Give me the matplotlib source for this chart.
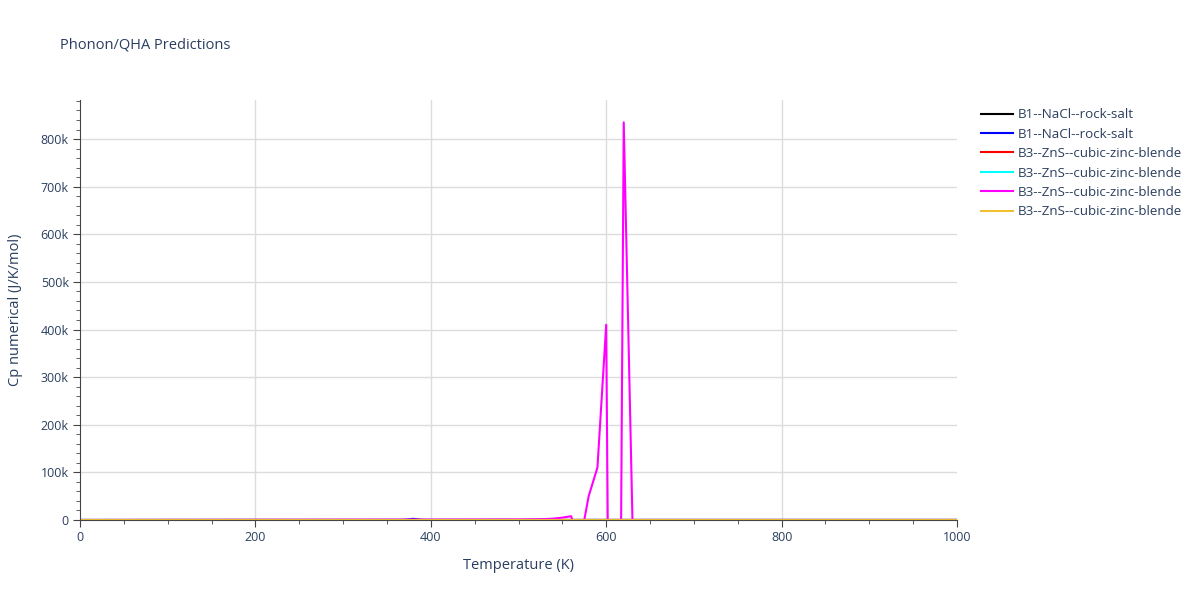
import matplotlib
matplotlib.use("Agg")
import matplotlib.pyplot as plt
from matplotlib.ticker import FuncFormatter, MultipleLocator

plt.rcParams["font.family"] = ["Open Sans", "DejaVu Sans"]
plt.rcParams["font.size"] = 9

# data (Cp in J/K/mol)
labels = [
    "B1--NaCl--rock-salt",
    "B1--NaCl--rock-salt",
    "B3--ZnS--cubic-zinc-blende",
    "B3--ZnS--cubic-zinc-blende",
    "B3--ZnS--cubic-zinc-blende",
    "B3--ZnS--cubic-zinc-blende",
]
colors = ["#000000", "#0000ff", "#ff0000", "#00ffff", "#ff00ff", "#f0c030"]

temp_coarse = [0, 100, 200, 300, 400, 500, 600, 700, 800, 900, 1000]
cp_black = [0, 30, 42, 46, 48, 49, 50, 50, 51, 51, 52]
cp_red = [0, 28, 40, 45, 47, 48, 49, 50, 50, 51, 51]
cp_cyan = [0, 29, 41, 45, 47, 48, 49, 50, 50, 51, 51]
cp_orange = [0, 27, 40, 44, 46, 47, 48, 49, 50, 50, 51]

temp_blue = [0, 100, 200, 300, 360, 370, 380, 390, 400, 500, 600, 700, 800, 900, 1000]
cp_blue = [0, 30, 42, 46, 48, 300, 2500, 200, 49, 50, 50, 51, 51, 52, 52]

temp_mag = [0, 100, 200, 300, 400, 500, 520, 530, 540, 550, 560, 570, 580,
            590, 600, 610, 620, 630, 640, 700, 800, 900, 1000]
cp_mag = [0, 300, 500, 700, 900, 1200, 1600, 2000, 2800, 5000, 8000, -50000,
          50000, 110000, 410000, -1950000, 835000, -5000, 60, 55, 55, 55, 55]

series = [
    (temp_coarse, cp_black),
    (temp_blue, cp_blue),
    (temp_coarse, cp_red),
    (temp_coarse, cp_cyan),
    (temp_mag, cp_mag),
    (temp_coarse, cp_orange),
]

fig = plt.figure(figsize=(12, 6), dpi=100)
ax = fig.add_axes([80 / 1200, 80 / 600, 877 / 1200, 420 / 600])

for (t, cp), c, lab in zip(series, colors, labels):
    ax.plot(t, cp, color=c, lw=1.5, label=lab, clip_on=True)

ax.set_xlim(0, 1000)
ax.set_ylim(0, 882000)

ax.set_xticks([0, 200, 400, 600, 800, 1000])
ax.xaxis.set_minor_locator(MultipleLocator(50))
ax.yaxis.set_major_locator(MultipleLocator(100000))
ax.yaxis.set_minor_locator(MultipleLocator(20000))
ax.yaxis.set_major_formatter(
    FuncFormatter(lambda v, p: "0" if v == 0 else "%dk" % round(v / 1000))
)

# vertical grid only inside the plot, none on the right edge
for xv in [200, 400, 600, 800]:
    ax.axvline(xv, color="#dcdcdc", lw=1, zorder=0)
ax.grid(True, axis="y", which="major", color="#dcdcdc", lw=1)
ax.set_axisbelow(True)
for s in ["top", "right"]:
    ax.spines[s].set_visible(False)
ax.spines["left"].set_color("#444444")
ax.spines["bottom"].set_color("#444444")
ax.tick_params(which="major", length=5, color="#444444", labelcolor="#2a3f5f",
               labelsize=9, pad=3)
ax.tick_params(which="minor", length=3, color="#444444")

ax.set_xlabel("Temperature (K)", color="#2a3f5f", fontsize=10.5, labelpad=10)
ax.set_ylabel("Cp numerical (J/K/mol)", color="#2a3f5f", fontsize=10.5, labelpad=13)

fig.text(60 / 1200, 1 - 45 / 600, "Phonon/QHA Predictions", color="#2a3f5f",
         fontsize=10.5, va="center", ha="left")

leg = fig.legend(loc="upper left", bbox_to_anchor=(976 / 1200, 1 - 103 / 600),
                 frameon=False, handlelength=2.4, handletextpad=0.35,
                 labelspacing=0.48, fontsize=9.6, borderaxespad=0)
for t in leg.get_texts():
    t.set_color("#2a3f5f")

fig.savefig("out.png", dpi=100)
